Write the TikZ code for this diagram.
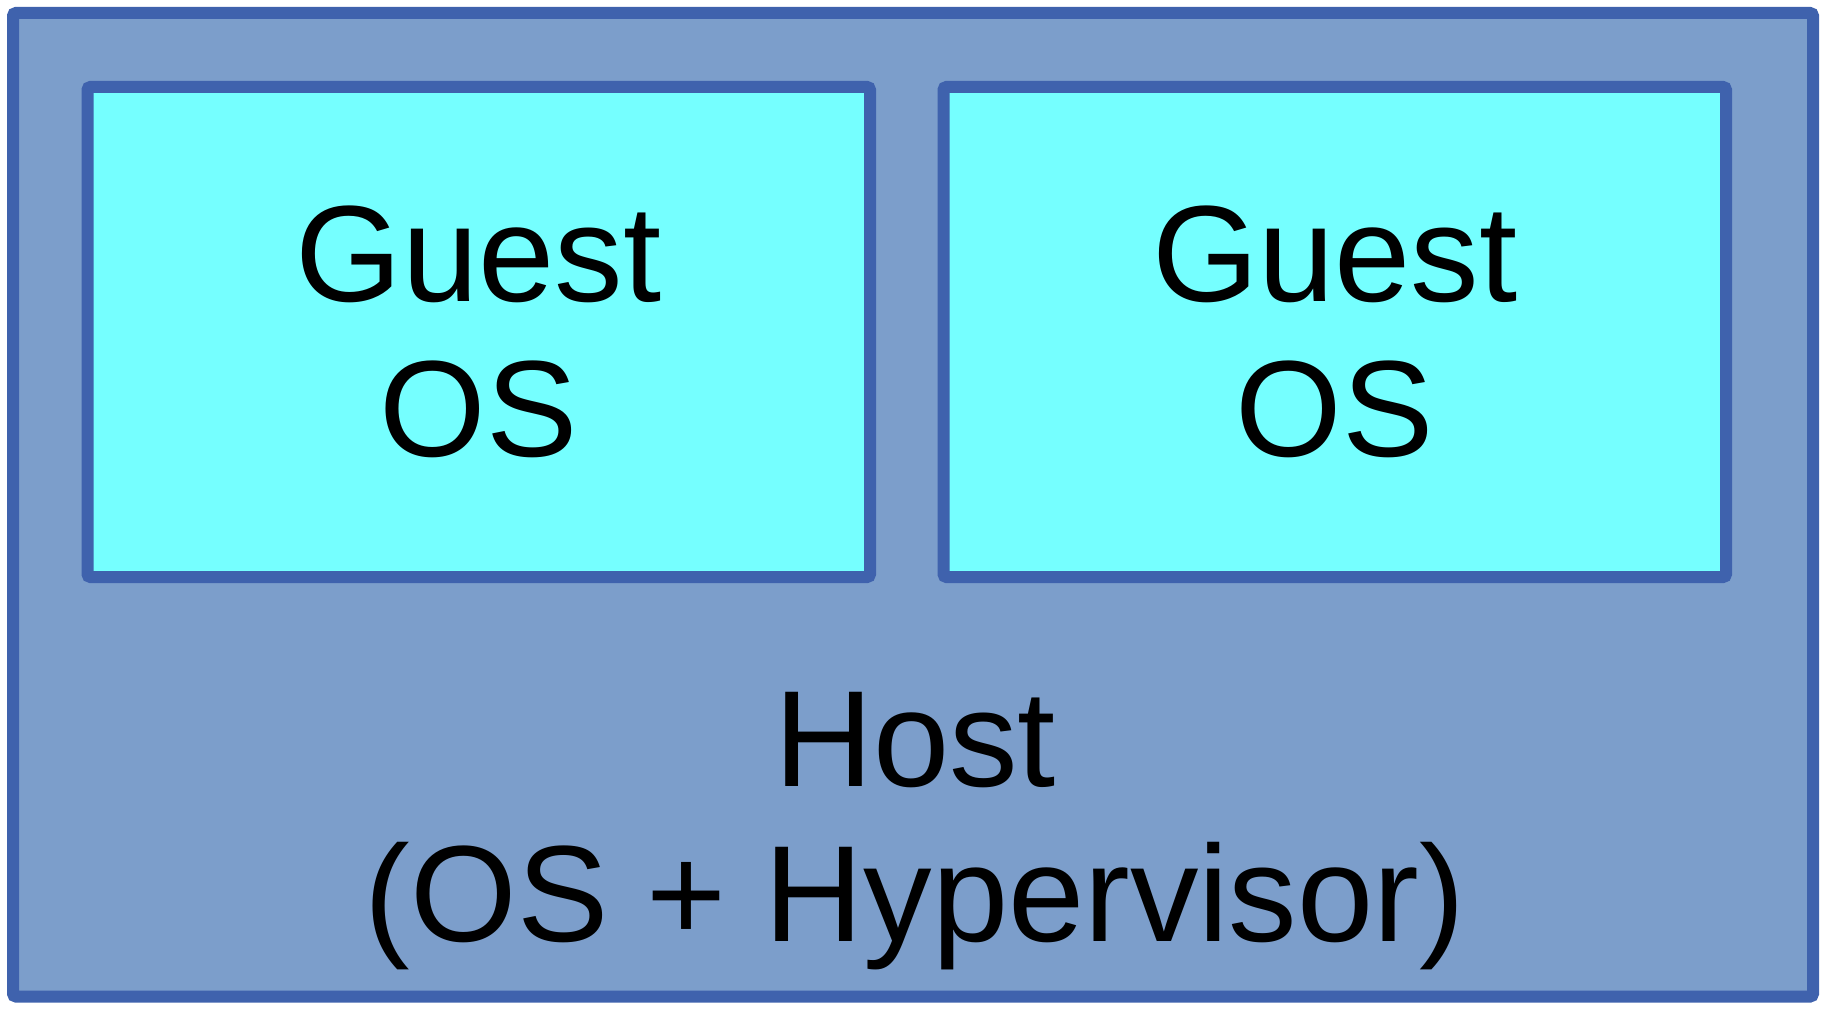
\documentclass[tikz,border=0pt]{standalone}
\usepackage{fontspec}
\setmainfont{Liberation Sans}
\usepackage{tikz}
\definecolor{hostblue}{RGB}{124, 158, 203}
\definecolor{edgeblue}{RGB}{63, 98, 173}
\definecolor{guestcyan}{RGB}{117, 255, 255}

\begin{document}
\begin{tikzpicture}[
  x=1pt, y=-1pt,
  hbox/.style={draw=edgeblue, line width=12pt, rounded corners=3pt, outer sep=0pt, inner sep=0pt},
  gbox/.style={hbox, fill=guestcyan, minimum width=782.5pt, minimum height=490pt, align=center, font=\fontsize{137}{155}\selectfont}
]
  \useasboundingbox (0, 0) rectangle (1830, 1014);

  % host machine
  \node[hbox, fill=hostblue, minimum width=1800pt, minimum height=983.5pt] (host) at (913, 504.75) {};
  \node[inner sep=0pt, align=center, font=\fontsize{137}{155}\selectfont] (hostlabel) at (915, 831) {Host\\(OS + Hypervisor)};

  % guests
  \node[gbox] (guestA) at (478.75, 332) {Guest\\OS};
  \node[gbox] (guestB) at (1334.75, 332) {Guest\\OS};
\end{tikzpicture}
\end{document}
